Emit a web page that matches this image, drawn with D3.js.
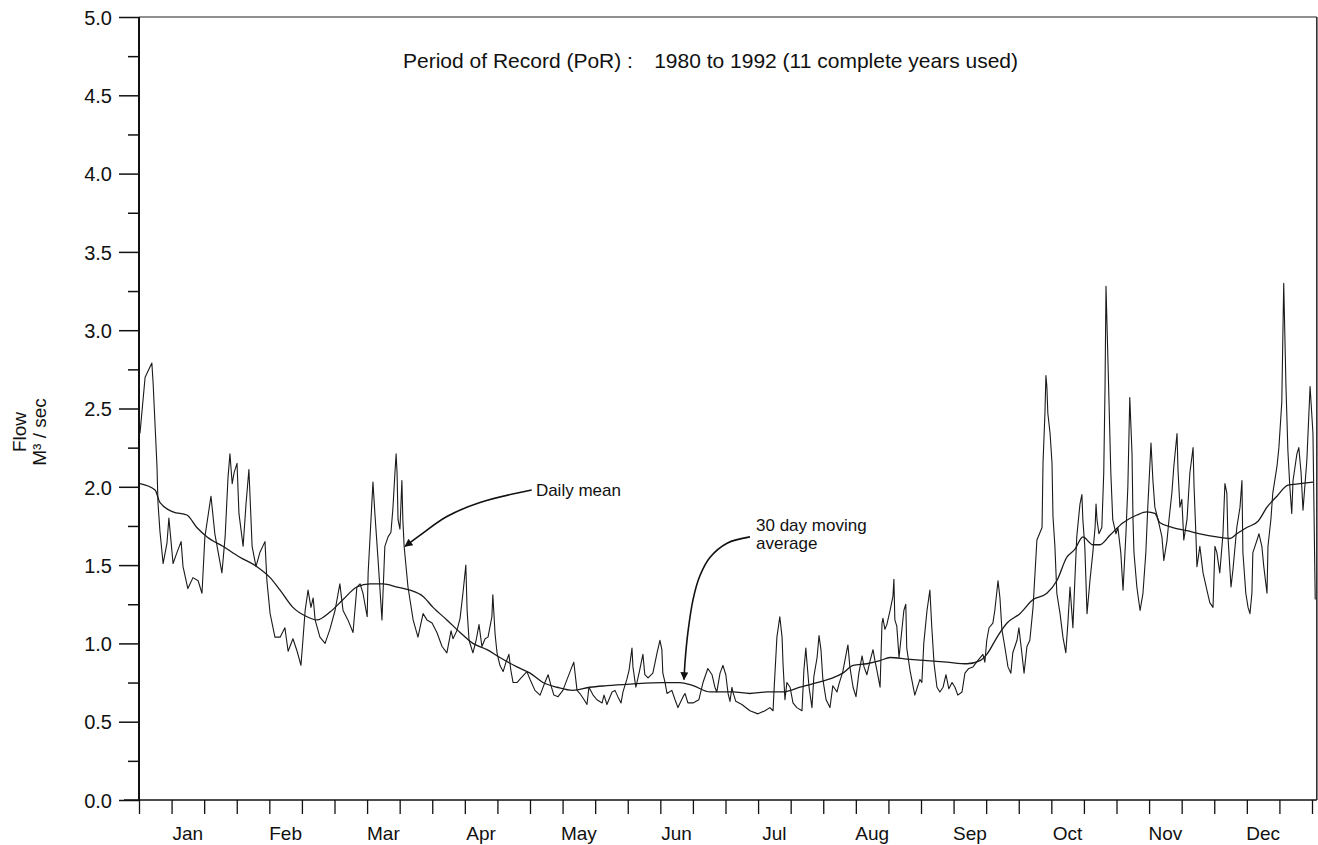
<!DOCTYPE html>
<html>
<head>
<meta charset="utf-8">
<script src="https://cdn.jsdelivr.net/npm/d3@7"></script>
<style>
  html, body { margin: 0; padding: 0; background: #fff; }
  svg text { font-family: "Liberation Sans", Arial, Helvetica, sans-serif; fill: #111; }
</style>
</head>
<body>
<div id="chart"></div>
<script>
// Day-of-year vs mean daily flow (m3/s)
const dailyMean = [
  [0.3,2.34],[1.9,2.70],[4.0,2.79],[4.4,2.66],[5.6,2.13],[5.9,1.90],[6.5,1.72],[7.5,1.51],[8.7,1.64],[9.3,1.80],
  [10.6,1.51],[11.8,1.58],[13.1,1.65],[13.7,1.49],[15.2,1.35],[16.8,1.42],[18.4,1.40],[19.6,1.32],[20.5,1.68],[22.4,1.94],
  [23.6,1.70],[25.8,1.45],[26.8,1.68],[27.7,2.06],[28.3,2.21],[29.0,2.02],[29.6,2.09],[30.5,2.15],[31.1,1.83],[32.4,1.62],
  [33.3,1.89],[34.2,2.11],[35.2,1.62],[36.4,1.49],[37.6,1.58],[39.2,1.65],[39.8,1.40],[40.8,1.19],[42.3,1.04],[43.9,1.04],
  [45.4,1.10],[46.4,0.95],[47.9,1.03],[49.2,0.95],[50.4,0.86],[51.0,1.02],[51.7,1.21],[52.6,1.34],[53.5,1.23],[54.2,1.29],
  [54.8,1.15],[56.3,1.04],[57.9,1.00],[59.4,1.09],[61.0,1.21],[62.5,1.38],[63.5,1.21],[65.0,1.15],[66.6,1.07],[67.8,1.36],
  [68.8,1.38],[69.7,1.32],[71.0,1.17],[71.3,1.45],[71.9,1.68],[72.8,2.03],[73.4,1.83],[74.4,1.53],[75.6,1.15],[76.5,1.62],
  [77.5,1.68],[78.4,1.71],[79.0,1.86],[79.7,2.11],[80.0,2.21],[80.3,2.09],[80.6,1.79],[81.2,1.73],[81.8,2.04],[82.1,1.79],
  [82.5,1.62],[83.7,1.36],[85.3,1.15],[86.8,1.04],[88.4,1.19],[89.6,1.15],[91.2,1.13],[92.7,1.07],[94.3,0.98],[95.8,0.94],
  [97.1,1.08],[97.7,1.03],[98.9,1.08],[99.9,1.16],[100.8,1.32],[101.7,1.50],[102.1,1.21],[102.7,1.02],[103.9,0.94],[104.9,1.02],
  [105.8,1.12],[106.7,0.98],[107.7,1.03],[108.6,1.04],[109.8,1.17],[110.1,1.31],[110.8,1.06],[111.4,0.94],[112.3,0.86],[113.3,0.82],
  [114.2,0.88],[115.1,0.93],[115.7,0.83],[116.4,0.75],[117.6,0.75],[118.9,0.78],[120.7,0.82],[121.7,0.77],[123.2,0.70],[124.8,0.67],
  [126.3,0.75],[127.3,0.80],[128.2,0.73],[129.1,0.67],[130.4,0.66],[131.9,0.70],[133.2,0.77],[134.7,0.85],[135.3,0.88],[136.3,0.70],
  [137.2,0.68],[138.5,0.64],[139.4,0.61],[140.0,0.72],[141.3,0.67],[142.5,0.64],[144.1,0.62],[144.7,0.67],[145.6,0.61],[147.2,0.69],
  [148.1,0.70],[149.0,0.66],[150.0,0.62],[150.6,0.69],[151.8,0.77],[152.5,0.83],[153.4,0.97],[153.7,0.85],[154.6,0.72],[155.6,0.81],
  [156.8,0.93],[157.4,0.80],[158.4,0.78],[159.9,0.81],[161.2,0.94],[162.1,1.02],[162.7,0.96],[163.0,0.81],[163.7,0.75],[164.3,0.68],
  [165.8,0.70],[166.8,0.64],[167.7,0.59],[169.3,0.66],[169.9,0.68],[170.8,0.62],[172.4,0.62],[174.2,0.64],[175.5,0.75],[177.0,0.84],
  [178.3,0.80],[179.2,0.72],[179.8,0.69],[180.8,0.81],[181.7,0.86],[182.6,0.80],[183.3,0.68],[183.9,0.63],[184.5,0.72],[184.8,0.69],
  [185.7,0.63],[187.6,0.61],[190.1,0.57],[192.6,0.55],[194.8,0.57],[196.3,0.59],[197.3,0.57],[197.6,0.70],[198.5,1.04],[199.4,1.17],
  [200.1,1.04],[200.4,0.87],[201.0,0.64],[201.6,0.75],[202.6,0.72],[203.5,0.62],[204.7,0.59],[206.3,0.57],[206.9,0.83],[207.5,0.97],
  [207.8,0.89],[208.5,0.72],[209.4,0.59],[210.0,0.79],[211.0,0.91],[211.6,1.05],[212.2,0.96],[212.8,0.77],[213.8,0.64],[215.0,0.59],
  [215.9,0.73],[217.2,0.69],[217.8,0.74],[219.0,0.82],[220.3,0.96],[220.6,0.99],[221.2,0.85],[222.2,0.72],[223.1,0.66],[224.0,0.81],
  [225.0,0.92],[225.6,0.85],[226.5,0.80],[227.5,0.89],[228.4,0.96],[229.0,0.89],[229.6,0.83],[230.6,0.72],[231.2,1.13],[231.5,1.16],
  [232.1,1.09],[232.7,1.12],[233.7,1.21],[234.6,1.30],[234.9,1.41],[235.2,1.15],[235.8,1.11],[236.5,0.91],[237.4,1.09],[238.0,1.21],
  [238.6,1.25],[238.9,0.97],[239.9,0.83],[241.4,0.67],[243.0,0.77],[243.6,0.75],[244.2,1.00],[245.2,1.21],[246.1,1.34],[246.7,1.10],
  [247.4,0.87],[248.3,0.72],[249.2,0.69],[250.2,0.72],[251.1,0.80],[252.0,0.71],[253.0,0.75],[253.9,0.72],[254.8,0.67],[256.1,0.69],
  [257.0,0.81],[258.2,0.84],[259.5,0.85],[261.0,0.89],[262.6,0.93],[263.2,0.88],[263.8,1.02],[264.5,1.10],[265.7,1.13],[266.3,1.21],
  [267.3,1.40],[267.9,1.29],[268.5,1.09],[269.4,0.98],[270.4,0.85],[271.3,0.81],[271.9,0.94],[273.2,1.02],[273.8,1.10],[274.7,0.94],
  [275.4,0.81],[276.3,0.98],[277.2,1.02],[278.2,1.23],[279.4,1.66],[281.0,1.74],[281.3,2.15],[281.9,2.47],[282.2,2.71],[282.5,2.64],
  [282.8,2.47],[283.5,2.34],[284.1,2.15],[284.4,1.81],[285.0,1.62],[285.6,1.32],[286.6,1.19],[287.5,1.04],[288.4,0.94],[289.1,1.15],
  [289.7,1.36],[290.3,1.19],[290.6,1.10],[291.2,1.40],[291.8,1.68],[292.8,1.89],[293.4,1.95],[293.7,1.79],[294.3,1.62],[295.0,1.19],
  [295.9,1.40],[296.8,1.58],[297.5,1.74],[297.8,1.89],[298.1,1.79],[298.7,1.70],[299.6,1.74],[300.2,2.09],[300.6,2.64],[300.9,3.28],
  [301.5,2.81],[302.4,2.09],[303.0,1.79],[304.0,1.70],[304.6,1.74],[305.5,1.58],[306.2,1.34],[307.1,1.70],[307.7,2.00],[308.3,2.57],
  [309.0,2.21],[309.3,1.79],[309.6,1.58],[310.5,1.36],[311.5,1.21],[312.4,1.32],[313.3,1.58],[313.9,1.87],[314.9,2.28],[315.5,2.04],
  [316.1,1.87],[317.1,1.79],[318.3,1.68],[318.9,1.53],[319.9,1.66],[320.5,1.79],[321.4,1.96],[322.0,2.13],[323.0,2.34],[323.3,2.11],
  [323.9,1.87],[324.5,1.92],[325.1,1.66],[326.1,1.79],[327.0,2.09],[328.0,2.25],[328.3,2.00],[328.9,1.68],[329.2,1.49],[330.1,1.62],
  [331.1,1.45],[332.3,1.34],[333.2,1.26],[334.2,1.23],[334.8,1.62],[335.4,1.58],[336.3,1.45],[337.3,1.70],[337.9,2.02],[338.5,1.96],
  [338.8,1.70],[339.8,1.36],[340.4,1.47],[341.6,1.74],[342.6,1.87],[343.2,2.04],[343.5,1.58],[344.4,1.32],[345.1,1.23],[345.7,1.19],
  [346.3,1.32],[346.6,1.58],[347.9,1.66],[348.5,1.70],[349.4,1.62],[350.0,1.49],[351.0,1.32],[351.3,1.62],[352.2,1.79],[352.8,1.96],
  [354.1,2.13],[354.7,2.25],[355.6,2.54],[356.2,3.30],[356.9,2.64],[357.5,2.23],[358.1,2.00],[358.7,1.83],[359.1,2.04],[360.3,2.21],
  [360.9,2.25],[361.6,2.09],[362.2,1.85],[363.4,2.17],[364.4,2.64],[365.3,2.34],[365.8,1.58],[366.0,1.28]
];

// 30 day moving average
const movingAvg = [
  [0.3,2.02],[5.0,1.98],[6.5,1.90],[10.6,1.84],[14.9,1.82],[18.0,1.74],[21.2,1.68],[26.1,1.62],[31.4,1.55],[36.7,1.49],
  [40.8,1.42],[43.9,1.34],[47.9,1.23],[52.3,1.17],[55.4,1.15],[59.4,1.20],[63.5,1.28],[67.8,1.36],[71.9,1.38],[75.9,1.38],
  [80.3,1.36],[84.3,1.34],[88.4,1.30],[91.5,1.23],[95.8,1.15],[99.9,1.07],[103.9,1.00],[108.3,0.96],[112.3,0.91],[117.6,0.85],
  [121.7,0.81],[125.7,0.75],[130.1,0.72],[135.0,0.70],[140.3,0.72],[145.6,0.73],[152.8,0.74],[163.0,0.75],[168.3,0.75],[172.4,0.73],
  [177.7,0.69],[184.8,0.69],[190.1,0.68],[195.4,0.69],[200.4,0.69],[205.7,0.72],[211.0,0.75],[215.9,0.78],[219.0,0.81],[222.2,0.86],
  [226.5,0.87],[230.6,0.89],[233.7,0.91],[239.0,0.90],[245.2,0.89],[251.4,0.88],[257.6,0.87],[261.7,0.89],[263.8,0.93],[267.3,1.05],
  [270.1,1.13],[274.1,1.19],[278.2,1.28],[282.5,1.32],[285.6,1.40],[288.7,1.55],[291.2,1.60],[293.7,1.68],[296.8,1.63],[299.0,1.63],
  [302.1,1.69],[306.2,1.77],[310.5,1.82],[313.6,1.84],[316.1,1.83],[317.7,1.77],[321.7,1.74],[326.1,1.72],[330.1,1.70],[335.4,1.68],
  [339.5,1.67],[341.6,1.70],[344.7,1.74],[348.2,1.78],[351.0,1.87],[354.1,1.94],[357.5,2.01],[361.2,2.02],[365.3,2.03]
];

const months = ["Jan","Feb","Mar","Apr","May","Jun","Jul","Aug","Sep","Oct","Nov","Dec"];
const yMajorTicks = [0, 0.5, 1.0, 1.5, 2.0, 2.5, 3.0, 3.5, 4.0, 4.5, 5.0];
const yMinorTicks = [0.25, 0.75, 1.25, 1.75, 2.25, 2.75, 3.25, 3.75, 4.25, 4.75];
const xTicksPerMonth = 3;
const titleLeft = "Period of Record (PoR) :";
const titleRight = "1980 to 1992 (11 complete years used)";

// annotation leader curves, in (day, flow)
const dailyLabelPath = [[122.2,1.98],[106.1,1.90],[95.8,1.81],[87.4,1.69],[82.8,1.62]];
const avgLabelPath = [[190.1,1.68],[183.0,1.64],[177.7,1.55],[174.5,1.43],[172.4,1.28],[170.8,1.07],[169.9,0.88],[169.6,0.77]];

const width = 1318, height = 845;
const plotLeft = 139, plotRight = 1312, plotTop = 17, plotBottom = 800;

const svg = d3.select("#chart").append("svg")
  .attr("width", width)
  .attr("height", height);

const x = d3.scaleLinear().domain([0, 365]).range([plotLeft, plotRight]);
const y = d3.scaleLinear().domain([0, 5]).range([plotBottom, plotTop]);

// frame (top + right edges)
svg.append("line")
  .attr("x1", plotLeft).attr("x2", x(366.5))
  .attr("y1", plotTop).attr("y2", plotTop)
  .attr("stroke", "#222").attr("stroke-width", 1.2);
svg.append("line")
  .attr("x1", x(366.5)).attr("x2", x(366.5))
  .attr("y1", plotTop).attr("y2", plotBottom)
  .attr("stroke", "#222").attr("stroke-width", 1.5);

// y axis
const yAxis = svg.append("g")
  .attr("transform", `translate(${plotLeft},0)`)
  .call(d3.axisLeft(y).tickValues(yMajorTicks).tickSize(20).tickPadding(7).tickFormat(d3.format(".1f")));
yAxis.select(".domain").remove();
yAxis.selectAll(".tick line").attr("stroke", "#111").attr("stroke-width", 1.5);
yAxis.selectAll(".tick text")
  .style("font-size", "20px")
  .attr("dy", "0.36em");

const yMinor = svg.append("g")
  .attr("transform", `translate(${plotLeft},0)`)
  .call(d3.axisLeft(y).tickValues(yMinorTicks).tickSize(11).tickFormat(""));
yMinor.select(".domain").remove();
yMinor.selectAll(".tick line").attr("stroke", "#111").attr("stroke-width", 1.5);

svg.append("line")
  .attr("x1", plotLeft).attr("x2", plotLeft)
  .attr("y1", plotTop).attr("y2", plotBottom)
  .attr("stroke", "#111").attr("stroke-width", 2);

// x axis
const xTickValues = d3.range(0, 12 * xTicksPerMonth + 1).map(i => i * 365 / (12 * xTicksPerMonth));
const xAxis = svg.append("g")
  .attr("transform", `translate(0,${plotBottom})`)
  .call(d3.axisBottom(x).tickValues(xTickValues).tickSize(14).tickFormat(""));
xAxis.select(".domain").remove();
xAxis.selectAll(".tick line").attr("stroke", "#111").attr("stroke-width", 1.3);

svg.append("line")
  .attr("x1", plotLeft - 15).attr("x2", x(366.5))
  .attr("y1", plotBottom).attr("y2", plotBottom)
  .attr("stroke", "#111").attr("stroke-width", 1.5);

svg.append("g").selectAll("text")
  .data(months)
  .join("text")
  .attr("x", (d, i) => x((i + 0.5) * 365 / 12))
  .attr("y", plotBottom + 40)
  .attr("text-anchor", "middle")
  .style("font-size", "19px")
  .text(d => d);

// y title
const yTitle = svg.append("g").attr("transform", `translate(0,${y(2.35)}) rotate(-90)`);
yTitle.append("text")
  .attr("x", 0).attr("y", 26)
  .attr("text-anchor", "middle")
  .style("font-size", "19px")
  .text("Flow");
yTitle.append("text")
  .attr("x", 0).attr("y", 46)
  .attr("text-anchor", "middle")
  .style("font-size", "19px")
  .text("M\u00B3 / sec");

// title
svg.append("text")
  .attr("x", 403).attr("y", 68)
  .style("font-size", "21px")
  .text(titleLeft);
svg.append("text")
  .attr("x", 1018).attr("y", 68)
  .attr("text-anchor", "end")
  .style("font-size", "21px")
  .text(titleRight);

// series
const line = d3.line()
  .x(d => x(d[0]))
  .y(d => y(d[1]));

svg.append("path")
  .datum(dailyMean)
  .attr("d", line)
  .attr("fill", "none")
  .attr("stroke", "#1a1a1a")
  .attr("stroke-width", 1.1)
  .attr("stroke-linejoin", "round");

svg.append("path")
  .datum(movingAvg)
  .attr("d", line.curve(d3.curveMonotoneX))
  .attr("fill", "none")
  .attr("stroke", "#1a1a1a")
  .attr("stroke-width", 1.3);

// annotations
svg.append("defs").append("marker")
  .attr("id", "arrow")
  .attr("viewBox", "0 0 10 10")
  .attr("refX", 9).attr("refY", 5)
  .attr("markerWidth", 12).attr("markerHeight", 8)
  .attr("markerUnits", "userSpaceOnUse")
  .attr("orient", "auto")
  .append("path")
  .attr("d", "M0,0 L10,5 L0,10 z")
  .attr("fill", "#111");

const leader = d3.line()
  .x(d => x(d[0]))
  .y(d => y(d[1]))
  .curve(d3.curveCatmullRom);

[dailyLabelPath, avgLabelPath].forEach(p => {
  svg.append("path")
    .datum(p)
    .attr("d", leader)
    .attr("fill", "none")
    .attr("stroke", "#111")
    .attr("stroke-width", 1.6)
    .attr("marker-end", "url(#arrow)");
});

svg.append("text")
  .attr("x", x(123.5)).attr("y", y(1.94))
  .style("font-size", "17px")
  .text("Daily mean");
svg.append("text")
  .attr("x", x(192.0)).attr("y", y(1.72))
  .style("font-size", "17px")
  .text("30 day moving");
svg.append("text")
  .attr("x", x(192.0)).attr("y", y(1.60))
  .style("font-size", "17px")
  .text("average");
</script>
</body>
</html>
